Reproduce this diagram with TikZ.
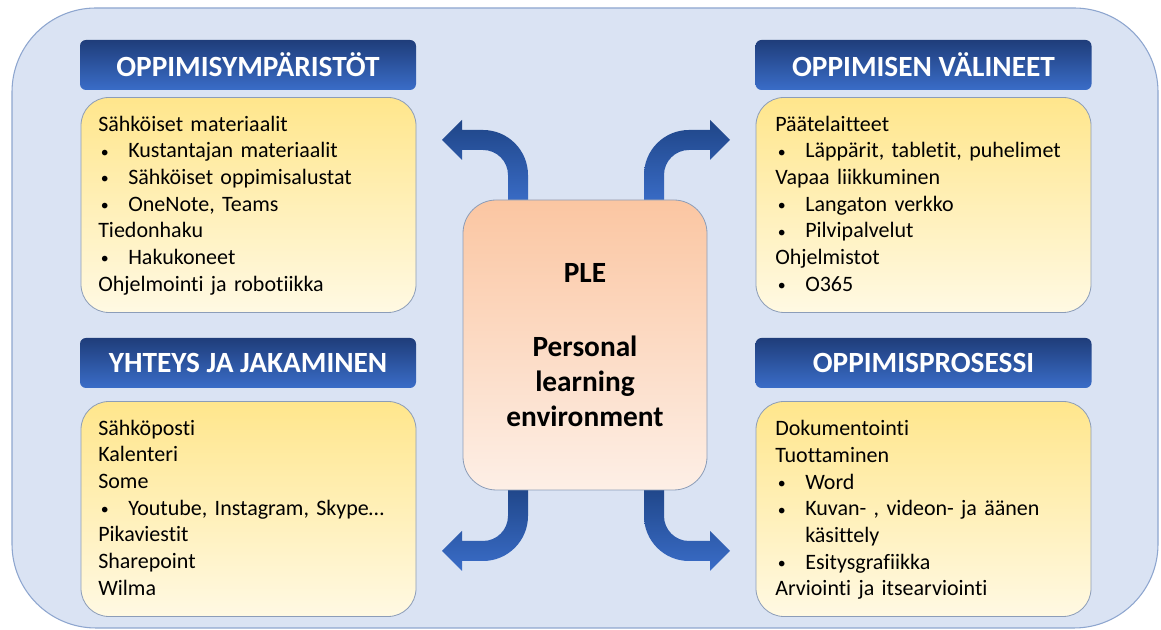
\documentclass[tikz,border=0pt]{standalone}
\usepackage{fontspec}
\setmainfont[Ligatures={NoCommon}]{Carlito}
\definecolor{bgfill}{HTML}{DAE3F3}
\definecolor{bgline}{HTML}{8EA6CF}
\definecolor{hdrtop}{HTML}{1F3D7A}
\definecolor{hdrbot}{HTML}{3A6DC8}
\definecolor{ylwtop}{HTML}{FFE68C}
\definecolor{ylwbot}{HTML}{FFF9E3}
\definecolor{boxline}{HTML}{8C9DB8}
\definecolor{pletop}{HTML}{FBC6A2}
\definecolor{plebot}{HTML}{FDEFE6}
\definecolor{arrdark}{HTML}{1F4587}
\definecolor{arrlite}{HTML}{3A6DC8}
% bullet item: small bullet plus hanging indent
\newcommand\blt[1]{\makebox[22.5pt][l]{\hspace{2pt}\raisebox{0.6pt}{\scalebox{0.72}{\textbullet}}}#1}
\begin{document}
\begin{tikzpicture}[x=0.75pt,y=0.75pt,
  header/.style={rounded corners=4.5pt, top color=hdrtop, bottom color=hdrbot,
    text=white, font=\fontsize{22}{26}\selectfont\bfseries,
    minimum width=252pt, minimum height=37.5pt, inner sep=0},
  listbox/.style={rounded corners=21pt, draw=boxline, line width=0.6pt,
    top color=ylwtop, bottom color=ylwbot,
    minimum width=251.25pt, minimum height=161.25pt, inner sep=0},
  body/.style={anchor=north west, align=left, inner sep=0, text width=245pt,
    font=\fontsize{16.5}{20}\selectfont},
  blockarrow/.style={top color=arrdark, bottom color=arrlite, shading=axis},
]
\useasboundingbox (0,0) rectangle (1161,630);
\fill[white] (0,0) rectangle (1161,630);

% outer panel
\draw[bgline, line width=0.8pt, fill=bgfill, rounded corners=63pt]
  (12,2) rectangle (1158,622);

% headers
\node[header] (h1) at (248,565) {OPPIMISYMPÄRISTÖT};
\node[header] (h2) at (923.5,565) {OPPIMISEN VÄLINEET};
\node[header] (h3) at (248,267) {YHTEYS JA JAKAMINEN};
\node[header] (h4) at (923.5,267) {OPPIMISPROSESSI};

% list boxes
\node[listbox] (b1) at (248.5,425) {};
\node[listbox] (b2) at (923.5,425) {};
\node[listbox] (b3) at (248.5,121) {};
\node[listbox] (b4) at (923.5,121) {};

\node[body] (t1) at (98,517.7) {\strut Sähköiset materiaalit\\
  \blt{Kustantajan materiaalit}\\
  \blt{Sähköiset oppimisalustat}\\
  \blt{OneNote, Teams}\\
  Tiedonhaku\\
  \blt{Hakukoneet}\\
  Ohjelmointi ja robotiikka};
\node[body] (t2) at (775,517.7) {\strut Päätelaitteet\\
  \blt{Läppärit, tabletit, puhelimet}\\
  Vapaa liikkuminen\\
  \blt{Langaton verkko}\\
  \blt{Pilvipalvelut}\\
  Ohjelmistot\\
  \blt{O365}};
\node[body] (t3) at (98,213.7) {\strut Sähköposti\\
  Kalenteri\\
  Some\\
  \blt{Youtube, Instagram, Skype…}\\
  Pikaviestit\\
  Sharepoint\\
  Wilma};
\node[body] (t4) at (775,213) {\strut Dokumentointi\\
  Tuottaminen\\
  \blt{Word}\\
  \blt{Kuvan- , videon- ja äänen}\\
  \hspace*{22.5pt}käsittely\\
  \blt{Esitysgrafiikka}\\
  Arviointi ja itsearviointi};

% curved block arrows leaving the centre box
\shade[blockarrow] (508,425) -- (508,455) arc[start angle=0,end angle=90,radius=25]
  -- (462,480) -- (462,470) -- (442,490) -- (462,510) -- (462,500) -- (483,500)
  arc[start angle=90,end angle=0,radius=45] -- (528,425) -- cycle;
\shade[blockarrow] (664,425) -- (664,455) arc[start angle=180,end angle=90,radius=25]
  -- (710,480) -- (710,470) -- (730,490) -- (710,510) -- (710,500) -- (689,500)
  arc[start angle=90,end angle=180,radius=45] -- (644,425) -- cycle;
\shade[blockarrow] (508,145) -- (508,114) arc[start angle=0,end angle=-90,radius=25]
  -- (462,89) -- (462,99) -- (442,79) -- (462,59) -- (462,69) -- (483,69)
  arc[start angle=-90,end angle=0,radius=45] -- (528,145) -- cycle;
\shade[blockarrow] (664,145) -- (664,114) arc[start angle=180,end angle=270,radius=25]
  -- (710,89) -- (710,99) -- (730,79) -- (710,59) -- (710,69) -- (689,69)
  arc[start angle=270,end angle=180,radius=45] -- (644,145) -- cycle;

% centre box
\node[rounded corners=25pt, draw=boxline, line width=0.6pt,
  top color=pletop, bottom color=plebot,
  minimum width=183pt, minimum height=217.5pt, inner sep=0] (ple) at (585,285) {};
\node[align=center, inner sep=0, font=\fontsize{22}{26}\selectfont\bfseries]
  (pletext) at (585,285) {PLE\\[29.5pt]Personal\\learning\\environment};
\end{tikzpicture}
\end{document}
